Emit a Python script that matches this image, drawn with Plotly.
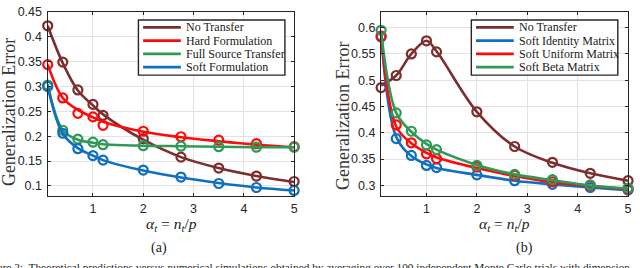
import plotly.graph_objects as go

# ---------------- data ----------------
alpha = [0.1, 0.4, 0.7, 1.0, 1.2, 2.0, 2.75, 3.5, 4.25, 5.0]

names_a = ["No Transfer", "Hard Formulation", "Full Source Transfer", "Soft Formulation"]
# simulation markers (a)
sim_a = [
    [0.422, 0.349, 0.293, 0.264, 0.242, 0.195, 0.158, 0.136, 0.120, 0.109],
    [0.344, 0.277, 0.246, 0.239, 0.222, 0.210, 0.199, 0.192, 0.185, 0.179],
    [0.303, 0.212, 0.194, 0.188, 0.183, 0.181, 0.180, 0.179, 0.178, 0.178],
    [0.300, 0.206, 0.175, 0.161, 0.152, 0.132, 0.118, 0.105, 0.097, 0.091],
]
# theory curves (a)
th_a = [
    [0.422, 0.347, 0.292, 0.262, 0.244, 0.193, 0.158, 0.136, 0.120, 0.108],
    [0.344, 0.277, 0.253, 0.238, 0.229, 0.209, 0.198, 0.190, 0.183, 0.178],
    [0.305, 0.212, 0.193, 0.187, 0.184, 0.181, 0.180, 0.179, 0.178, 0.178],
    [0.300, 0.205, 0.176, 0.161, 0.152, 0.131, 0.117, 0.106, 0.097, 0.091],
]

names_b = ["No Transfer", "Soft Identity Matrix", "Soft Uniform Matrix", "Soft Beta Matrix"]
sim_b = [
    [0.486, 0.509, 0.550, 0.575, 0.554, 0.440, 0.374, 0.344, 0.323, 0.309],
    [0.582, 0.389, 0.357, 0.338, 0.334, 0.320, 0.309, 0.302, 0.296, 0.291],
    [0.584, 0.415, 0.381, 0.360, 0.351, 0.335, 0.319, 0.307, 0.300, 0.293],
    [0.595, 0.438, 0.403, 0.377, 0.368, 0.338, 0.321, 0.311, 0.301, 0.295],
]
th_b = [
    [0.490, 0.509, 0.550, 0.575, 0.555, 0.440, 0.374, 0.343, 0.323, 0.309],
    [0.585, 0.392, 0.356, 0.340, 0.333, 0.320, 0.309, 0.302, 0.296, 0.291],
    [0.588, 0.412, 0.380, 0.362, 0.353, 0.333, 0.318, 0.306, 0.299, 0.293],
    [0.592, 0.438, 0.402, 0.379, 0.368, 0.339, 0.321, 0.310, 0.300, 0.294],
]

yticks_a = [0.1, 0.15, 0.2, 0.25, 0.3, 0.35, 0.4, 0.45]
yticks_b = [0.3, 0.35, 0.4, 0.45, 0.5, 0.55, 0.6]
xticks = [1, 2, 3, 4, 5]

# ---------------- style ----------------
BROWN = "#7d2e2e"
RED = "#ff0a0a"
GREEN = "#2f9a57"
BLUE = "#0f70bf"
colors_a = [BROWN, RED, GREEN, BLUE]
colors_b = [BROWN, BLUE, RED, GREEN]

W, H = 640, 268
SERIF = "Liberation Serif, Times New Roman, Times, serif"
SANS = "Liberation Sans, Arial, Helvetica, sans-serif"
AX = "#262626"


def px(x):
    return x / W


def py(y):
    return 1 - y / H


fig = go.Figure()

for names, sims, ths, cols, xa, ya in [
    (names_a, sim_a, th_a, colors_a, "x", "y"),
    (names_b, sim_b, th_b, colors_b, "x2", "y2"),
]:
    for n, s, t, c in zip(names, sims, ths, cols):
        fig.add_trace(go.Scatter(x=alpha, y=t, mode="lines", name=n,
                                 line=dict(color=c, width=2.6, shape="spline", smoothing=1.0),
                                 xaxis=xa, yaxis=ya, showlegend=False, cliponaxis=True))
        fig.add_trace(go.Scatter(x=alpha, y=s, mode="markers", name=n,
                                 marker=dict(symbol="circle-open", size=9, color=c,
                                             line=dict(width=2.2, color=c)),
                                 xaxis=xa, yaxis=ya, showlegend=False, cliponaxis=False))

common_x = dict(range=[0.1, 5], tickvals=xticks, ticks="inside", ticklen=3, tickcolor=AX,
                showline=True, linecolor=AX, linewidth=1.4, mirror="ticks",
                showgrid=True, gridcolor="#e3e3e3", gridwidth=1, zeroline=False,
                ticklabeloverflow="allow",
                tickfont=dict(family=SANS, size=12.5, color=AX), ticklabelstandoff=1)
common_y = dict(ticks="inside", ticklen=3, tickcolor=AX,
                showline=True, linecolor=AX, linewidth=1.4, mirror="ticks",
                showgrid=True, gridcolor="#e3e3e3", gridwidth=1, zeroline=False,
                ticklabeloverflow="allow",
                tickfont=dict(family=SANS, size=12.5, color=AX), ticklabelstandoff=2)

fig.update_layout(
    width=W, height=H, margin=dict(l=0, r=0, t=0, b=0),
    paper_bgcolor="white", plot_bgcolor="white", showlegend=False,
    xaxis=dict(domain=[px(48), px(296)], anchor="y", **common_x),
    yaxis=dict(domain=[py(194), py(5)], anchor="x", range=[0.08, 0.45],
               tickvals=yticks_a, ticktext=[f"{v:g}" for v in yticks_a], **common_y),
    xaxis2=dict(domain=[px(383.5), px(632)], anchor="y2", **common_x),
    yaxis2=dict(domain=[py(194), py(5)], anchor="x2", range=[0.28, 0.63],
                tickvals=yticks_b, ticktext=[f"{v:g}" for v in yticks_b], **common_y),
)

ann = []
shapes = []

# axis titles
xtitle = "<i>α</i><sub><i>t</i></sub> = <i>n</i><sub><i>t</i></sub>/<i>p</i>"
for cx in (173, 508):
    ann.append(dict(x=px(cx), y=py(223), xref="paper", yref="paper", text=xtitle,
                    showarrow=False, xanchor="center", yanchor="middle",
                    font=dict(family=SERIF, size=15.5, color="#222")))
for cx, cy in ((9, 108), (345, 112)):
    ann.append(dict(x=px(cx), y=py(cy), xref="paper", yref="paper", text="Generalization Error",
                    showarrow=False, textangle=-90, xanchor="center", yanchor="middle",
                    font=dict(family=SERIF, size=18, color="#333")))
# sub-captions
for cx, t in ((160, "(a)"), (528, "(b)")):
    ann.append(dict(x=px(cx), y=py(247), xref="paper", yref="paper", text=t,
                    showarrow=False, xanchor="center", yanchor="middle",
                    font=dict(family=SERIF, size=14, color="#222")))
# partially visible figure caption
ann.append(dict(x=px(-20), y=py(259), xref="paper", yref="paper",
                text="Figure 2:  Theoretical predictions versus numerical simulations obtained by averaging over 100 independent Monte Carlo trials with dimension",
                showarrow=False, xanchor="left", yanchor="top",
                font=dict(family=SERIF, size=11.3, color="#222")))

# legends (drawn manually)
for names, cols, bx0, bx1, lx0, lx1, tx in [
    (names_a, colors_a, 139.3, 286.7, 144, 182, 185),
    (names_b, colors_b, 474.3, 621.7, 479, 517, 520),
]:
    shapes.append(dict(type="rect", xref="paper", yref="paper",
                       x0=px(bx0), x1=px(bx1), y0=py(70), y1=py(13.3),
                       line=dict(color=AX, width=1.4), fillcolor="white", layer="above"))
    for i, (n, c) in enumerate(zip(names, cols)):
        yy = 21 + i * 13.6
        shapes.append(dict(type="line", xref="paper", yref="paper",
                           x0=px(lx0), x1=px(lx1), y0=py(yy), y1=py(yy),
                           line=dict(color=c, width=2.8), layer="above"))
        ann.append(dict(x=px(tx), y=py(yy), xref="paper", yref="paper", text=n,
                        showarrow=False, xanchor="left", yanchor="middle",
                        font=dict(family=SERIF, size=12, color="#1a1a1a")))

fig.update_layout(annotations=ann, shapes=shapes)
fig.write_html("out.html", config={"displayModeBar": False},
               post_script="document.body.style.margin='0';")
